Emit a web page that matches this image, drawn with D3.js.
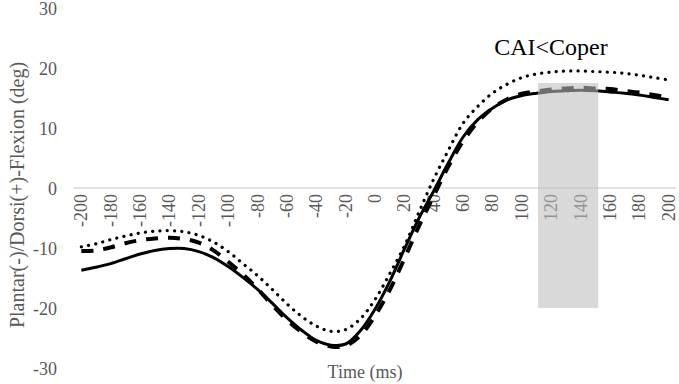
<!DOCTYPE html>
<html><head><meta charset="utf-8">
<script src="https://cdn.jsdelivr.net/npm/d3@7/dist/d3.min.js"></script>
<style>body{margin:0;background:#fff}svg{display:block}</style>
</head><body>
<svg id="c" width="679" height="384"></svg>
<script>
const times = d3.range(-200, 201, 10);
const solidVals = [-13.7,-13.2,-12.6,-11.8,-11.0,-10.4,-10.1,-10.1,-10.6,-11.6,-13.1,-14.9,-16.9,-19.2,-21.6,-23.7,-25.4,-26.2,-26.0,-23.8,-20.2,-15.6,-10.2,-5.0,-0.5,4.2,8.5,11.4,13.3,14.7,15.4,15.8,16.1,16.2,16.3,16.2,16.0,15.8,15.5,15.1,14.7];
const dashedVals = [-10.5,-10.4,-9.9,-9.2,-8.7,-8.4,-8.3,-8.5,-9.1,-10.4,-12.3,-14.4,-16.8,-19.5,-22.0,-24.0,-25.6,-26.4,-26.3,-24.6,-21.3,-17.0,-11.8,-6.3,-1.3,3.6,7.8,11.0,13.3,14.8,15.7,16.1,16.4,16.6,16.7,16.6,16.5,16.2,15.9,15.5,15.1];
const dottedVals = [-9.8,-9.3,-8.6,-8.0,-7.5,-7.2,-7.1,-7.3,-7.9,-9.0,-10.6,-12.6,-14.6,-16.9,-19.3,-21.4,-23.0,-23.9,-23.6,-21.8,-18.6,-14.3,-9.7,-4.0,1.5,6.3,10.8,13.6,15.8,17.3,18.4,19.0,19.3,19.5,19.5,19.4,19.3,19.1,18.8,18.4,18.0];
const xTicks = d3.range(-200, 201, 20);
const yTicks = [30, 20, 10, 0, -10, -20, -30];
const shadeRange = [111, 152];
const shadeValues = [-20, 17.5];
const annotation = "CAI<Coper";
const xTitle = "Time (ms)";
const yTitle = "Plantar(-)/Dorsi(+)-Flexion (deg)";

const svg = d3.select("#c");
const x = d3.scaleLinear().domain([-205, 205]).range([74, 676]);
const y = d3.scaleLinear().domain([-30, 30]).range([368, 8]);
const grey = "#595959";
const font = "'Liberation Serif','Times New Roman',serif";

svg.append("line").attr("x1", x(-205)).attr("x2", x(205)).attr("y1", y(0)).attr("y2", y(0))
  .attr("stroke", "#d9d9d9").attr("stroke-width", 1.5);

svg.append("g").selectAll("text").data(yTicks).join("text")
  .attr("x", 57).attr("y", d => y(d) + 1).attr("text-anchor", "end").attr("dominant-baseline", "central")
  .attr("font-family", font).attr("font-size", 18).attr("fill", grey).text(d => d);

svg.append("g").selectAll("text").data(xTicks).join("text")
  .attr("transform", d => `translate(${x(d)},194) rotate(-90)`)
  .attr("text-anchor", "end").attr("dominant-baseline", "central")
  .attr("font-family", font).attr("font-size", 18).attr("fill", grey).text(d => d);

const line = d3.line().x((d, i) => x(times[i])).y(d => y(d)).curve(d3.curveCatmullRom.alpha(0.5));

svg.append("path").attr("d", line(solidVals)).attr("fill", "none").attr("stroke", "#000").attr("stroke-width", 3);
svg.append("path").attr("d", line(dashedVals)).attr("fill", "none").attr("stroke", "#000").attr("stroke-width", 4)
  .attr("stroke-dasharray", "12,10");
svg.append("path").attr("d", line(dottedVals)).attr("fill", "none").attr("stroke", "#000").attr("stroke-width", 3.2)
  .attr("stroke-linecap", "round").attr("stroke-dasharray", "0.1,7.2");

svg.append("rect").attr("x", x(shadeRange[0])).attr("width", x(shadeRange[1]) - x(shadeRange[0]))
  .attr("y", y(shadeValues[1])).attr("height", y(shadeValues[0]) - y(shadeValues[1]))
  .attr("fill", "#bebebe").attr("fill-opacity", 0.58);

svg.append("text").attr("x", 551).attr("y", 55).attr("text-anchor", "middle")
  .attr("font-family", font).attr("font-size", 24).attr("fill", "#000").text(annotation);

svg.append("text").attr("x", 365).attr("y", 378).attr("text-anchor", "middle")
  .attr("font-family", font).attr("font-size", 18).attr("fill", grey).text(xTitle);

svg.append("text").attr("transform", "translate(17,195) rotate(-90)").attr("text-anchor", "middle")
  .attr("dominant-baseline", "central")
  .attr("font-family", font).attr("font-size", 20).attr("fill", grey).text(yTitle);
</script>
</body></html>
